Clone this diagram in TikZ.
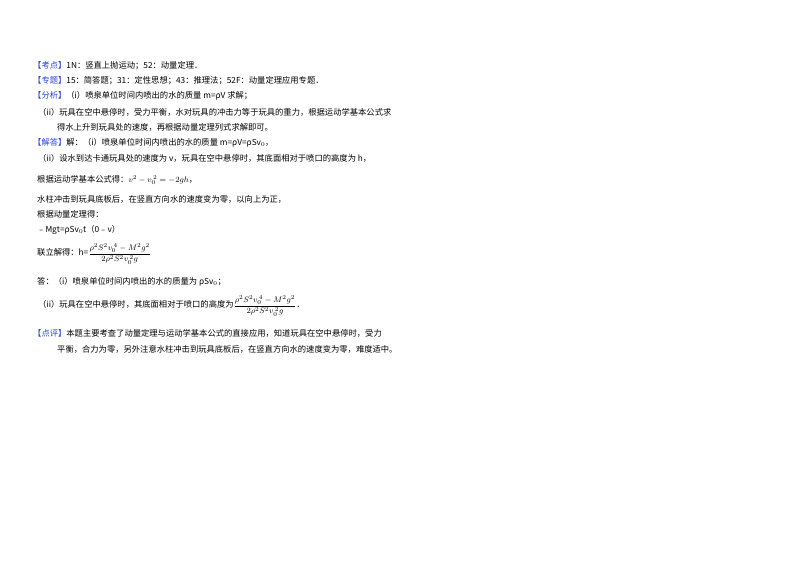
\documentclass[tikz,border=0pt]{standalone}
\usepackage{fontspec}
\setmainfont{Noto Sans CJK SC}
\usetikzlibrary{positioning}
\definecolor{tagblue}{RGB}{40,70,210}
\tikzset{%
	line/.style={anchor=west,inner sep=0pt,font=\fontsize{8.3}{9}\selectfont},
}
\newcommand{\lbl}[1]{\textcolor{tagblue}{【#1】}}
\newcommand{\hfrac}{$\dfrac{\rho^2S^2v_0^{\,4}-M^2g^2}{2\rho^2S^2v_0^{\,2}g}$}
\usepackage{amsmath}
\begin{document}
\begin{tikzpicture}[x=1pt,y=-1pt]
				\useasboundingbox (0,0) rectangle (800,565);
				
				%考点与专题
				\node[line] (kd) at (33,66) {\lbl{考点}1N：竖直上抛运动；52：动量定理．};
				\node[line] (zt) at (33,81) {\lbl{专题}15：简答题；31：定性思想；43：推理法；52F：动量定理应用专题．};
				
				%分析
				\node[line] (fx) at (33,96) {\lbl{分析}（i）喷泉单位时间内喷出的水的质量 m=ρV 求解；};
				\node[line] (fx2) at (38,112) {（ii）玩具在空中悬停时，受力平衡，水对玩具的冲击力等于玩具的重力，根据运动学基本公式求};
				\node[line] (fx3) at (57,127) {得水上升到玩具处的速度，再根据动量定理列式求解即可。};
				
				%解答
				\node[line] (jd) at (33,143) {\lbl{解答}解：（i）喷泉单位时间内喷出的水的质量 m=ρV=ρSv$_0$，};
				\node[line] (jd2) at (38,158) {（ii）设水到达卡通玩具处的速度为 v，玩具在空中悬停时，其底面相对于喷口的高度为 h，};
				\node[line] (jd3) at (37,180) {根据运动学基本公式得：$v^2-v_0^{\,2}=-2gh$，};
				\node[line] (jd4) at (37,199) {水柱冲击到玩具底板后，在竖直方向水的速度变为零，以向上为正，};
				\node[line] (jd5) at (37,214) {根据动量定理得：};
				\node[line] (jd6) at (37,230) {﹣Mgt=ρSv$_0$t（0﹣v）};
				\node[line] (jd7) at (37,254) {联立解得：h=\hfrac};
				
				%答
				\node[line] (da) at (37,282) {答：（i）喷泉单位时间内喷出的水的质量为 ρSv$_0$；};
				\node[line] (da2) at (38,306) {（ii）玩具在空中悬停时，其底面相对于喷口的高度为\hfrac．};
				
				%点评
				\node[line] (dp) at (33,333) {\lbl{点评}本题主要考查了动量定理与运动学基本公式的直接应用，知道玩具在空中悬停时，受力};
				\node[line] (dp2) at (57,349) {平衡，合力为零，另外注意水柱冲击到玩具底板后，在竖直方向水的速度变为零，难度适中。};
			\end{tikzpicture}
\end{document}
